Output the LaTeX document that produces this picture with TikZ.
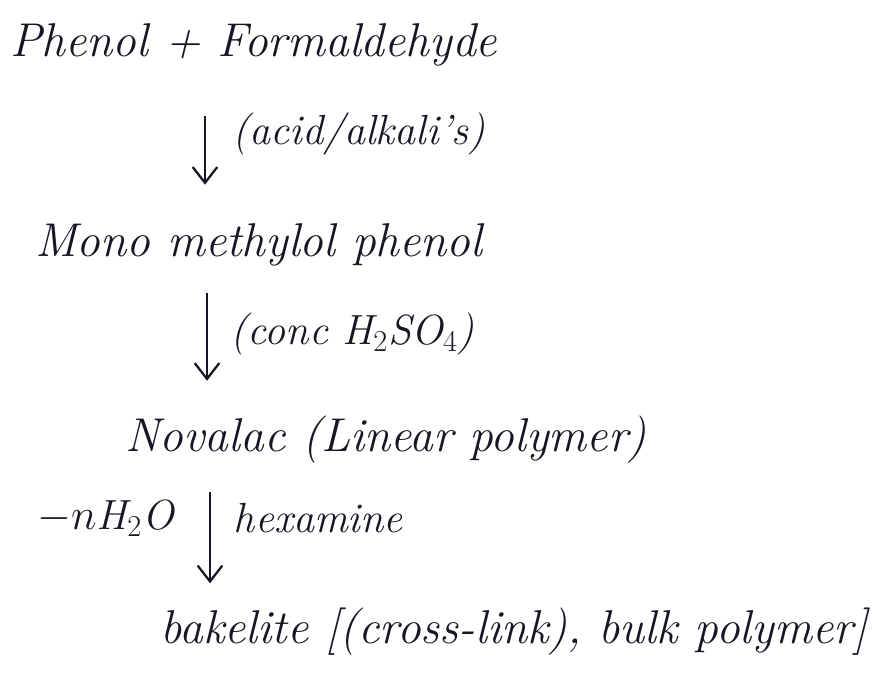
\documentclass[tikz,border=0pt]{standalone}
\usepackage{tikz}
\usetikzlibrary{arrows.meta}
\usepackage{xcolor}
\definecolor{ink}{RGB}{22,22,38}

\begin{document}
\begin{tikzpicture}[
  x=0.02cm,y=-0.02cm,
  txt/.style={inner sep=0pt,anchor=west,text=ink,
              font=\fontsize{27}{30}\selectfont\itshape},
  lbl/.style={inner sep=0pt,text=ink,
              font=\fontsize{24}{28}\selectfont\itshape},
  arr/.style={-{Straight Barb[length=9pt,width=14pt]},line width=1.3pt,ink}
]
\useasboundingbox (0,0) rectangle (881,688);
\node[txt](reac) at (10,45){Phenol + Formaldehyde};
\node[txt](mono) at (35,245){Mono methylol phenol};
\node[txt](nova) at (125,440){Novalac (Linear polymer)};
\node[txt](bake) at (160,632){bakelite [(cross-link), bulk polymer]};
\coordinate (c1) at (205,0);
\coordinate (c2) at (207,0);
\coordinate (c3) at (210,0);
\draw[arr,shorten <=28pt,shorten >=22pt](reac.south -| c1)--
  node[lbl,anchor=west,xshift=15pt,yshift=6pt]{(acid/alkali's)}(mono.north -| c1);
\draw[arr,shorten <=15pt,shorten >=20pt](mono.south -| c2)--
  node[lbl,anchor=west,xshift=13pt,yshift=4pt]{(conc H$_2$SO$_4$)}(nova.north -| c2);
\draw[arr,shorten <=16pt,shorten >=14pt](nova.south -| c3)--
  node[lbl,anchor=west,xshift=13pt,yshift=10pt](hexa){hexamine}
  node[lbl,anchor=east,xshift=-20pt,yshift=10pt](water){$-n$H$_2$O}(bake.north -| c3);
\end{tikzpicture}
\end{document}
